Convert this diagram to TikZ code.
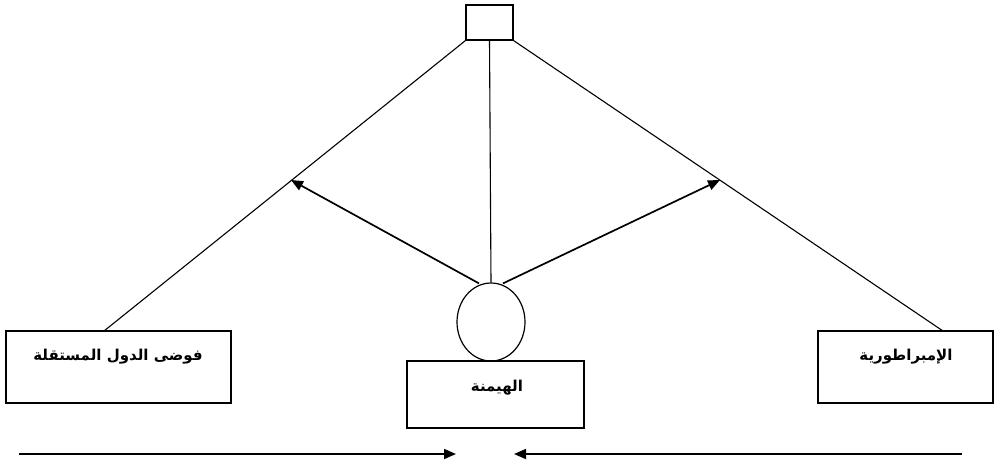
\documentclass[tikz,border=0pt]{standalone}
\usepackage{fontspec}
\TeXXeTstate=1
\newfontfamily\arabicfont[Script=Arabic]{DejaVu Sans}
\usetikzlibrary{arrows.meta,shapes.geometric}
\begin{document}
\begin{tikzpicture}[x=1pt,y=-1pt,
  boxst/.style={draw,line width=1.2pt,inner sep=0pt},
  ln/.style={line width=1.1pt},
  arr/.style={line width=1.7pt,-{Triangle[length=12pt,width=10pt]}},
  lbl/.style={font=\arabicfont\bfseries\fontsize{15}{18}\selectfont}]
\useasboundingbox (0,0) rectangle (996,464);
\node[boxst,minimum width=47pt,minimum height=35pt] (top) at (489.5,22.5) {};
\node[draw,line width=1.2pt,ellipse,minimum width=68pt,minimum height=78pt,inner sep=0pt] (ell) at (491,322) {};
\node[boxst,minimum width=177pt,minimum height=67pt] (mid) at (495.5,394.5) {};
\node[boxst,minimum width=225pt,minimum height=72pt] (left) at (118.5,367) {};
\node[boxst,minimum width=175pt,minimum height=72pt] (right) at (905.5,367) {};
\node[lbl] at (118,357) {\beginR فوضى الدول المستقلة\endR};
\node[lbl] at (906,357) {\beginR الإمبراطورية\endR};
\node[lbl] at (497,388) {\beginR الهيمنة\endR};
\coordinate (lt) at (104,331);
\coordinate (rt) at (943,331);
\draw[ln] (top.south west) -- (lt);
\draw[ln] (top.south east) -- (rt);
\draw[ln] (top.south) -- (ell.north);
\coordinate (la) at (291,180);
\coordinate (ra) at (720,180);
\draw[arr] (ell.north) ++(-12,1) coordinate (ls) -- (la);
\draw[arr] (ell.north) ++(12,1) coordinate (rs) -- (ra);
\coordinate (b1) at (19,454);
\coordinate (b2) at (456,454);
\coordinate (b3) at (962,454);
\coordinate (b4) at (514,454);
\draw[arr] (b1) -- (b2);
\draw[arr] (b3) -- (b4);
\end{tikzpicture}
\end{document}
